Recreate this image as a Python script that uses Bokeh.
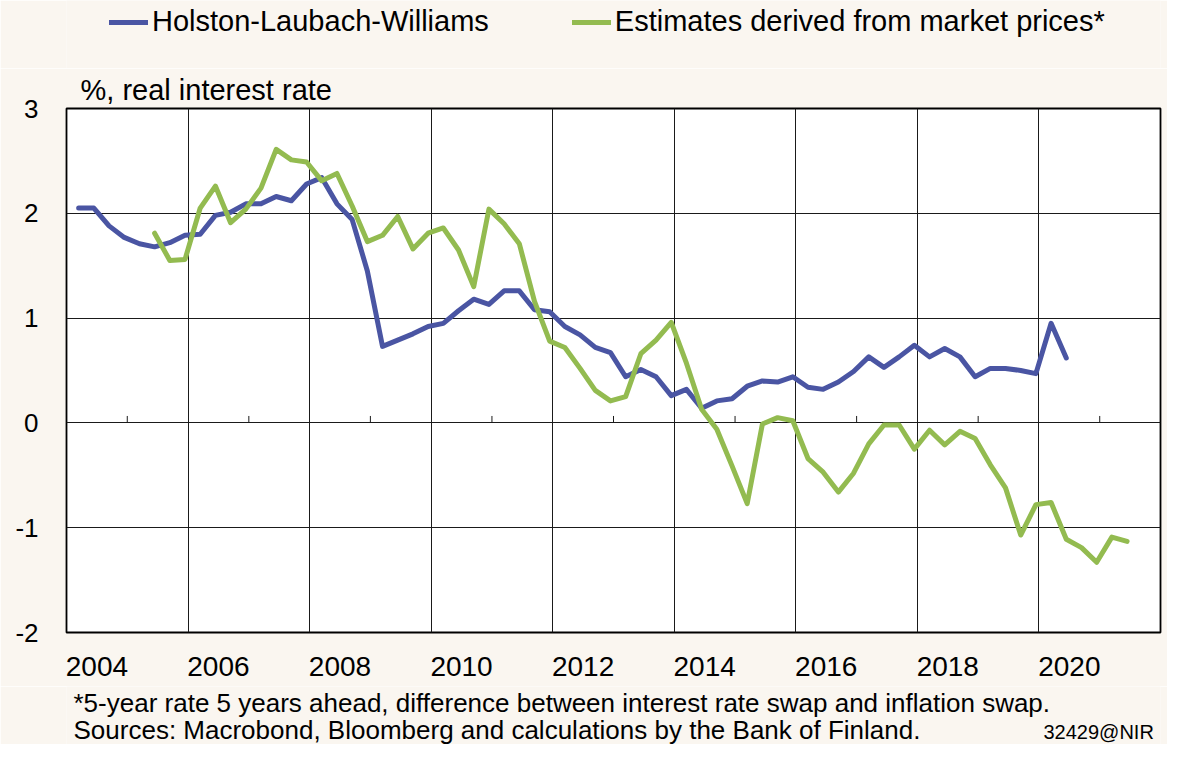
from bokeh.plotting import figure
from bokeh.models import FixedTicker, Legend, LegendItem, Range1d, Title
from bokeh.layouts import column
from bokeh.core.properties import value
from bokeh.embed import file_html
from bokeh.resources import INLINE

# ---- data (quarterly, %) ----
hlw_start = (2004, 1)
hlw = [2.05, 2.05, 1.88, 1.77, 1.71, 1.68, 1.72, 1.79, 1.80, 1.98,
       2.01, 2.09, 2.09, 2.16, 2.12, 2.28, 2.34, 2.09, 1.94, 1.45,
       0.73, 0.79, 0.85, 0.92, 0.95, 1.07, 1.18, 1.13, 1.26, 1.26,
       1.08, 1.06, 0.92, 0.84, 0.72, 0.67, 0.44, 0.51, 0.44, 0.26,
       0.32, 0.14, 0.21, 0.23, 0.35, 0.40, 0.39, 0.44, 0.34, 0.32,
       0.39, 0.49, 0.63, 0.53, 0.63, 0.74, 0.63, 0.71, 0.63, 0.44,
       0.52, 0.52, 0.50, 0.47, 0.95, 0.62]
market_start = (2005, 2)
market = [1.81, 1.55, 1.56, 2.05, 2.26, 1.91, 2.04, 2.24, 2.61, 2.51,
          2.49, 2.31, 2.38, 2.07, 1.73, 1.79, 1.97, 1.66, 1.81, 1.86,
          1.65, 1.30, 2.04, 1.90, 1.71, 1.16, 0.78, 0.72, 0.52, 0.31,
          0.21, 0.25, 0.66, 0.79, 0.96, 0.57, 0.13, -0.06, -0.41, -0.77,
          -0.01, 0.05, 0.02, -0.34, -0.47, -0.66, -0.48, -0.20, -0.02, -0.02,
          -0.25, -0.07, -0.21, -0.08, -0.15, -0.40, -0.62, -1.07, -0.78, -0.76,
          -1.11, -1.19, -1.33, -1.09, -1.13]
label_years = [2004, 2006, 2008, 2010, 2012, 2014, 2016, 2018, 2020]
grid_years = [2006, 2008, 2010, 2012, 2014, 2016, 2018, 2020]
minor_tick_years = [2005, 2007, 2009, 2011, 2013, 2015, 2017, 2019, 2021]
y_ticks = [-2, -1, 0, 1, 2, 3]
series_names = ["Holston-Laubach-Williams", "Estimates derived from market prices*"]
title_text = "%, real interest rate"
note1 = "*5-year rate 5 years ahead, difference between interest rate swap and inflation swap."
note2 = "Sources: Macrobond, Bloomberg and calculations by the Bank of Finland."
code_text = "32429@NIR"

BLUE = "#4A55A3"
GREEN = "#93BB50"
BG = "#FAF6F0"
FONT = "Liberation Sans"
W = 1167
LEFT, RIGHT = 66, 7
MAIN_TOP = 40
TOP_H = 108 - MAIN_TOP
FRAME_H = 524
MAIN_BOTTOM = 54
MAIN_H = MAIN_TOP + FRAME_H + MAIN_BOTTOM
BOT_H = 744 - TOP_H - MAIN_H
NAN = float("nan")


def quarter_x(start, n):
    y, q = start
    # observations dated in the last month of each quarter
    return [y + (q - 1) * 0.25 + 0.2 + 0.25 * i for i in range(n)]


def text_panel(height):
    f = figure(width=W, height=height, x_range=Range1d(LEFT, W - RIGHT),
               y_range=Range1d(0, height), output_backend="svg",
               toolbar_location=None, x_axis_location=None, y_axis_location=None,
               min_border_left=LEFT, min_border_right=RIGHT,
               min_border_top=0, min_border_bottom=0, outline_line_color=None,
               background_fill_color=BG, border_fill_color=BG)
    f.xgrid.visible = False
    f.ygrid.visible = False
    return f


# ---------- header: legend ----------
top = text_panel(TOP_H)
d1 = top.line([NAN], [NAN], line_color=BLUE, line_width=5, line_cap="round")
d2 = top.line([NAN], [NAN], line_color=GREEN, line_width=5, line_cap="round")
legend = Legend(items=[LegendItem(label=series_names[0], renderers=[d1]),
                       LegendItem(label=series_names[1], renderers=[d2])],
                orientation="horizontal", location=(43, TOP_H - 38),
                padding=0, margin=0, spacing=83, glyph_width=39,
                label_standoff=4, border_line_color=None,
                background_fill_alpha=0, label_text_font=FONT,
                label_text_font_size="29px", label_text_color="black")
top.add_layout(legend, "center")

# ---------- main chart ----------
p = figure(width=W, height=MAIN_H, x_range=(2004, 2022), y_range=(-2, 3),
           output_backend="svg", toolbar_location=None,
           min_border_left=LEFT, min_border_right=RIGHT, min_border_top=MAIN_TOP,
           min_border_bottom=MAIN_BOTTOM, background_fill_color="white",
           border_fill_color=BG, outline_line_color="black",
           outline_line_width=1.8)
p.add_layout(Title(text=title_text, align="left", offset=14, standoff=6,
                   text_font=FONT, text_font_size="29px",
                   text_font_style="normal", text_color="black"), "above")

p.xgrid.ticker = FixedTicker(ticks=grid_years)
p.ygrid.ticker = FixedTicker(ticks=[t for t in y_ticks if -2 < t < 3])
for g in (p.xgrid, p.ygrid):
    g.grid_line_color = "#1a1a1a"
    g.grid_line_width = 1

p.xaxis.ticker = FixedTicker(ticks=[yy + 0.5 for yy in label_years])
p.xaxis.major_label_overrides = {yy + 0.5: str(yy) for yy in label_years}
p.yaxis.ticker = FixedTicker(ticks=y_ticks)
p.yaxis.major_label_overrides = {t: str(t) for t in y_ticks}
for ax in (p.xaxis, p.yaxis):
    ax.axis_line_color = None
    ax.major_tick_line_color = None
    ax.minor_tick_line_color = None
    ax.major_label_text_font = FONT
    ax.major_label_text_color = "black"
p.xaxis.major_label_text_font_size = "28px"
p.xaxis.major_label_standoff = 18
p.yaxis.major_label_text_font_size = "26px"
p.yaxis.major_label_standoff = 22

# small ticks on the zero line
p.segment(x0=minor_tick_years, y0=[0] * len(minor_tick_years),
          x1=minor_tick_years, y1=[0.066] * len(minor_tick_years),
          line_color="#1a1a1a", line_width=1)

p.line(quarter_x(hlw_start, len(hlw)), hlw, line_color=BLUE,
       line_width=5, line_join="round", line_cap="round")
p.line(quarter_x(market_start, len(market)), market, line_color=GREEN,
       line_width=5, line_join="round", line_cap="round")

# ---------- footer: notes ----------
bot = text_panel(BOT_H)
bot.text(x=[73, 73], y=[BOT_H - 16, 15], text=[note1, note2], text_font=value(FONT),
         text_font_size="26px", text_baseline="alphabetic", text_color="black")
bot.text(x=[1043], y=[13], text=[code_text], text_font=value(FONT),
         text_font_size="20px", text_baseline="alphabetic", text_color="black")

layout = column(top, p, bot, spacing=0)
open("out.html", "w").write(file_html(layout, INLINE))
